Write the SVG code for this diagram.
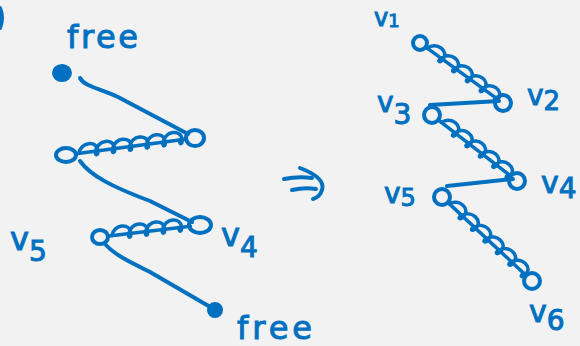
<svg xmlns="http://www.w3.org/2000/svg" width="580" height="346" viewBox="0 0 580 346">
<style>
.ink{fill:none;stroke:#0070C0;stroke-width:4;stroke-linecap:round;stroke-linejoin:round}
.spr{fill:none;stroke:#0070C0;stroke-width:3.5;stroke-linecap:round;stroke-linejoin:round}
.dot{fill:#0070C0;stroke:#0070C0;stroke-width:2}
.ring{fill:none;stroke:#0070C0;stroke-width:4}
.lbl{font-family:"DejaVu Sans","Liberation Sans",sans-serif;fill:#0070C0;stroke:#0070C0;stroke-width:1}
</style>
<rect width="580" height="346" fill="#F2F2F2"/>
<path class="ink" d="M0,8 Q4,18 0,28"/>
<g id="connectors">
  <path class="ink" d="M80,78 C84,86 98,88 118,97 L188,134"/>
  <path class="ink" d="M80,161 C90,175 110,186 150,201 L192,222"/>
  <path class="ink" d="M106,245 C115,255 130,262 150,272 L212,308"/>
  <g transform="translate(66,155) rotate(-7.51)">
    <path class="spr" d="M10,0 L120,0"/>
    <path class="spr" d="M13,0 c 3,-11 20,-11 19,0 c 0,5 -4,5 -2,0 c 3,-11 20,-11 19,0 c 0,5 -4,5 -2,0 c 3,-11 20,-11 19,0 c 0,5 -4,5 -2,0 c 3,-11 20,-11 19,0 c 0,5 -4,5 -2,0 c 3,-11 20,-11 19,0 c 0,5 -4,5 -2,0 c 3,-11 20,-11 19,0 c 0,5 -4,5 -2,0"/>
  </g>
  <g transform="translate(100,237) rotate(-6.84)">
    <path class="spr" d="M9,0 L91,0"/>
    <path class="spr" d="M12,0 c 3,-11 20,-11 19,0 c 0,5 -4,5 -2,0 c 3,-11 20,-11 19,0 c 0,5 -4,5 -2,0 c 3,-11 20,-11 19,0 c 0,5 -4,5 -2,0 c 3,-11 20,-11 19,0 c 0,5 -4,5 -2,0"/>
  </g>
  <g transform="translate(420,43) rotate(35.86)">
    <path class="spr" d="M8,0 L94,0"/>
    <path class="spr" d="M9,0 c 3,-11 20,-11 19,0 c 0,5 -4,5 -2,0 c 3,-11 20,-11 19,0 c 0,5 -4,5 -2,0 c 3,-11 20,-11 19,0 c 0,5 -4,5 -2,0 c 3,-11 20,-11 19,0 c 0,5 -4,5 -2,0 c 3,-11 20,-11 19,0 c 0,5 -4,5 -2,0"/>
  </g>
  <path class="ink" d="M499,101 L430,105"/>
  <g transform="translate(432,115) rotate(37.83)">
    <path class="spr" d="M9,0 L99,0"/>
    <path class="spr" d="M12,0 c 3,-11 20,-11 19,0 c 0,5 -4,5 -2,0 c 3,-11 20,-11 19,0 c 0,5 -4,5 -2,0 c 3,-11 20,-11 19,0 c 0,5 -4,5 -2,0 c 3,-11 20,-11 19,0 c 0,5 -4,5 -2,0 c 3,-11 20,-11 19,0 c 0,5 -4,5 -2,0"/>
  </g>
  <path class="ink" d="M513,179 L447,186"/>
  <g transform="translate(442,197) rotate(43.03)">
    <path class="spr" d="M9,0 L114,0"/>
    <path class="spr" d="M10,0 c 3,-11 20,-11 19,0 c 0,5 -4,5 -2,0 c 3,-11 20,-11 19,0 c 0,5 -4,5 -2,0 c 3,-11 20,-11 19,0 c 0,5 -4,5 -2,0 c 3,-11 20,-11 19,0 c 0,5 -4,5 -2,0 c 3,-11 20,-11 19,0 c 0,5 -4,5 -2,0 c 3,-11 20,-11 19,0 c 0,5 -4,5 -2,0"/>
  </g>
  <g id="implies">
    <path class="ink" d="M284,179 Q298,176 312,178"/>
    <path class="ink" d="M292,190 Q305,187 316,189"/>
    <path class="ink" d="M300,168 Q326,178 322,190 Q320,197 313,199"/>
  </g>
</g>
<g id="free-top">
  <ellipse class="dot" cx="62" cy="73" rx="9" ry="8"/>
  <text class="lbl" x="67" y="48" font-size="32" textLength="71">free</text>
</g>
<g id="left-a"><ellipse class="ring" cx="195" cy="138" rx="9" ry="8"/></g>
<g id="left-b"><ellipse class="ring" cx="66" cy="155" rx="10" ry="7"/></g>
<g id="left-v4">
  <ellipse class="ring" cx="200" cy="225" rx="11" ry="8"/>
  <text class="lbl" x="221" y="246" font-size="32">v<tspan font-size="28" dy="11">4</tspan></text>
</g>
<g id="left-v5">
  <ellipse class="ring" cx="100" cy="237" rx="8" ry="7"/>
  <text class="lbl" x="10" y="250" font-size="32">v<tspan font-size="28" dy="11">5</tspan></text>
</g>
<g id="free-bottom">
  <ellipse class="dot" cx="215" cy="310" rx="7" ry="7"/>
  <text class="lbl" x="237" y="339" font-size="32" textLength="75">free</text>
</g>
<g id="r-v1">
  <circle class="ring" cx="420" cy="43" r="7"/>
  <text class="lbl" x="374" y="26" font-size="24">v<tspan font-size="18" dy="1">1</tspan></text>
</g>
<g id="r-v2">
  <circle class="ring" cx="503" cy="103" r="8"/>
  <text class="lbl" x="527" y="105" font-size="28">v<tspan font-size="26" dy="5">2</tspan></text>
</g>
<g id="r-v3">
  <circle class="ring" cx="432" cy="115" r="8"/>
  <text class="lbl" x="377" y="112" font-size="28">v<tspan font-size="28" dy="12">3</tspan></text>
</g>
<g id="r-v4">
  <circle class="ring" cx="517" cy="181" r="8"/>
  <text class="lbl" x="541" y="193" font-size="30">v<tspan font-size="28" dy="5">4</tspan></text>
</g>
<g id="r-v5">
  <circle class="ring" cx="442" cy="197" r="8"/>
  <text class="lbl" x="384" y="203" font-size="28">v<tspan font-size="24" dy="3">5</tspan></text>
</g>
<g id="r-v6">
  <circle class="ring" cx="532" cy="281" r="8"/>
  <text class="lbl" x="529" y="322" font-size="30">v<tspan font-size="28" dy="8">6</tspan></text>
</g>
</svg>
